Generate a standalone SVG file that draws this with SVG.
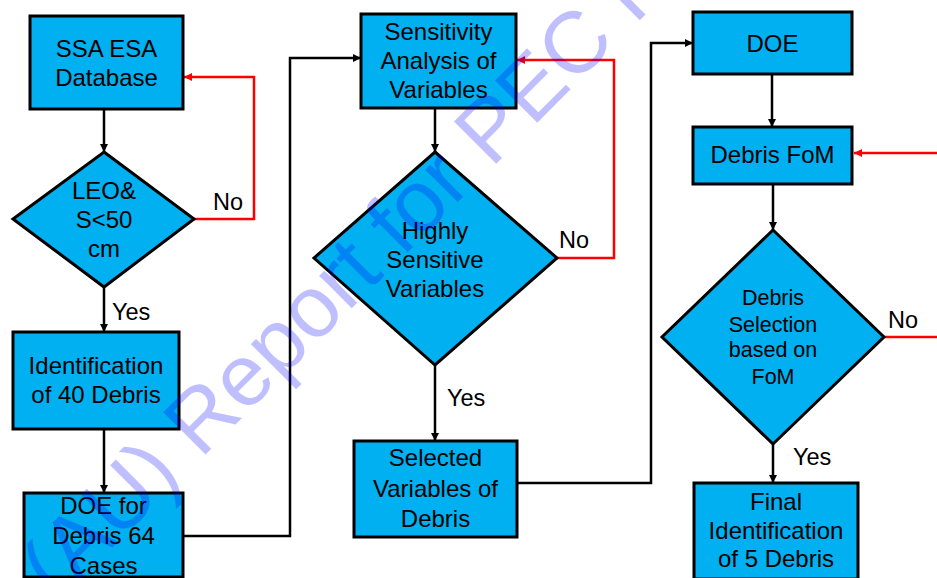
<svg xmlns="http://www.w3.org/2000/svg" width="937" height="578" viewBox="0 0 937 578">
<style>
.n{fill:#00B0F0;stroke:#000;stroke-width:3}
.t{font-family:"Liberation Sans",Arial,sans-serif;font-size:24px;fill:#000;text-anchor:middle}
.s{font-size:21.5px}
.l{font-family:"Liberation Sans",Arial,sans-serif;font-size:23.5px;fill:#000}
.c{fill:none;stroke:#000;stroke-width:2.5}
.r{fill:none;stroke:#FF0000;stroke-width:2.5}
.wm{font-family:"Liberation Sans",Arial,sans-serif;font-size:87px;fill:#0000FF;fill-opacity:0.25}
</style>
<defs>
<marker id="ab" viewBox="0 0 10 10" refX="10" refY="5" markerWidth="9" markerHeight="8" markerUnits="userSpaceOnUse" orient="auto"><path d="M0,0 L10,5 L0,10 z" fill="#000"/></marker>
<marker id="ar" viewBox="0 0 10 10" refX="10" refY="5" markerWidth="9" markerHeight="8" markerUnits="userSpaceOnUse" orient="auto"><path d="M0,0 L10,5 L0,10 z" fill="#FF0000"/></marker>
</defs>
<rect width="937" height="578" fill="#fff"/>
<g id="connectors">
<path class="c" d="M104,109 V152" marker-end="url(#ab)"/>
<path class="c" d="M104,287 V332" marker-end="url(#ab)"/>
<path class="c" d="M104,429 V493" marker-end="url(#ab)"/>
<path class="r" d="M194,219 H254 V77 H184" marker-end="url(#ar)"/>
<path class="c" d="M183,536 H290 V58 H361" marker-end="url(#ab)"/>
<path class="c" d="M435,108 V152" marker-end="url(#ab)"/>
<path class="r" d="M557,258 H614 V60 H517" marker-end="url(#ar)"/>
<path class="c" d="M435,365 V441" marker-end="url(#ab)"/>
<path class="c" d="M517,483 H651 V43 H693" marker-end="url(#ab)"/>
<path class="c" d="M772,74 V127" marker-end="url(#ab)"/>
<path class="r" d="M937,153 H854" marker-end="url(#ar)"/>
<path class="c" d="M773,184 V230" marker-end="url(#ab)"/>
<path class="r" d="M884,337 H937"/>
<path class="c" d="M773,444 V483" marker-end="url(#ab)"/>
<text class="l" x="213" y="210">No</text>
<text class="l" x="112" y="320">Yes</text>
<text class="l" x="559" y="248">No</text>
<text class="l" x="447" y="406">Yes</text>
<text class="l" x="888" y="328">No</text>
<text class="l" x="793" y="465">Yes</text>
</g>
<g id="ssa">
<rect class="n" x="30" y="16" width="153" height="93"/>
<text class="t" x="106.5" y="57">SSA ESA</text>
<text class="t" x="106.5" y="86">Database</text>
</g>
<g id="leo">
<path class="n" d="M104,152 L194,219 L104,287 L13,219 Z"/>
<text class="t" x="104" y="199">LEO&amp;</text>
<text class="t" x="104" y="228">S&lt;50</text>
<text class="t" x="104" y="257">cm</text>
</g>
<g id="ident40">
<rect class="n" x="13" y="332" width="166" height="97"/>
<text class="t" x="96" y="374">Identification</text>
<text class="t" x="96" y="403">of 40 Debris</text>
</g>
<g id="doe64">
<rect class="n" x="24" y="493" width="159" height="84"/>
<text class="t" x="103.5" y="514">DOE for</text>
<text class="t" x="103.5" y="544">Debris 64</text>
<text class="t" x="103.5" y="574">Cases</text>
</g>
<g id="sens">
<rect class="n" x="361" y="14" width="155" height="94"/>
<text class="t" x="438.5" y="40">Sensitivity</text>
<text class="t" x="438.5" y="69">Analysis of</text>
<text class="t" x="438.5" y="98">Variables</text>
</g>
<g id="highly">
<path class="n" d="M435,152 L557,258 L435,365 L314,258 Z"/>
<text class="t" x="435" y="239">Highly</text>
<text class="t" x="435" y="268">Sensitive</text>
<text class="t" x="435" y="297">Variables</text>
</g>
<g id="selected">
<rect class="n" x="354" y="441" width="163" height="96"/>
<text class="t" x="435.5" y="466">Selected</text>
<text class="t" x="435.5" y="497">Variables of</text>
<text class="t" x="435.5" y="527">Debris</text>
</g>
<g id="doe">
<rect class="n" x="693" y="12" width="159" height="62"/>
<text class="t" x="772.5" y="52">DOE</text>
</g>
<g id="fom">
<rect class="n" x="693" y="127" width="159" height="57"/>
<text class="t" x="772.5" y="163">Debris FoM</text>
</g>
<g id="selection">
<path class="n" d="M773,230 L884,337 L773,444 L662,337 Z"/>
<text class="t s" x="773" y="305">Debris</text>
<text class="t s" x="773" y="332">Selection</text>
<text class="t s" x="773" y="357">based on</text>
<text class="t s" x="773" y="384">FoM</text>
</g>
<g id="final">
<rect class="n" x="694" y="483" width="164" height="96"/>
<text class="t" x="776" y="510">Final</text>
<text class="t" x="776" y="539">Identification</text>
<text class="t" x="776" y="567">of 5 Debris</text>
</g>
<text class="wm" transform="translate(57,603) rotate(-45)">(AU) Report for PEC F</text>
</svg>
